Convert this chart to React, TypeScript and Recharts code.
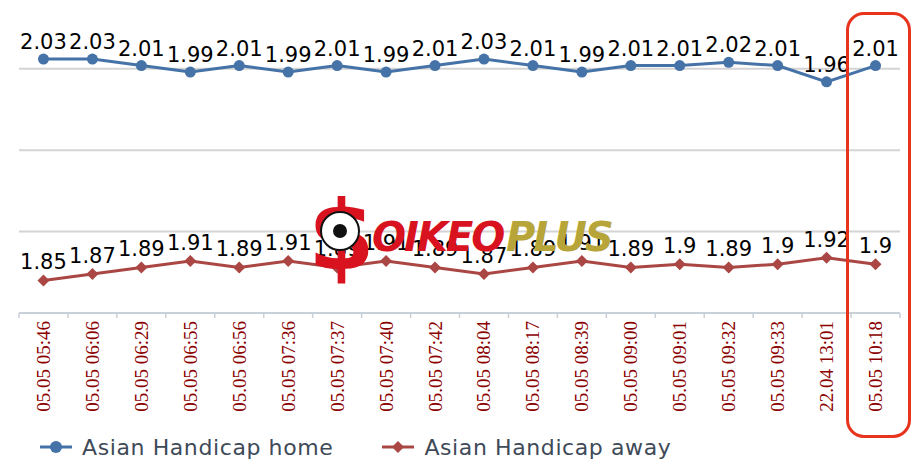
import { LineChart, Line, XAxis, YAxis, CartesianGrid, Legend, LabelList } from "recharts";

const TIMES = [
  "05.05 05:46", "05.05 06:06", "05.05 06:29", "05.05 06:55", "05.05 06:56", "05.05 07:36",
  "05.05 07:37", "05.05 07:40", "05.05 07:42", "05.05 08:04", "05.05 08:17", "05.05 08:39",
  "05.05 09:00", "05.05 09:01", "05.05 09:32", "05.05 09:33", "22.04 13:01", "05.05 10:18",
];
const HOME = [2.03, 2.03, 2.01, 1.99, 2.01, 1.99, 2.01, 1.99, 2.01, 2.03, 2.01, 1.99, 2.01, 2.01, 2.02, 2.01, 1.96, 2.01];
const AWAY = [1.85, 1.87, 1.89, 1.91, 1.89, 1.91, 1.89, 1.91, 1.89, 1.87, 1.89, 1.91, 1.89, 1.9, 1.89, 1.9, 1.92, 1.9];
const HOME_TICKS = [1.25, 1.5, 1.75, 2.0];
const HOME_DOMAIN = [1.25, 2.15];
const AWAY_DOMAIN = [1.75, 2.65];

const W = 918;
const H = 476;
const M = { top: 20, right: 18, bottom: 0, left: 19 };
const HALF_BAND = (W - M.left - M.right) / TIMES.length / 2;

const BLUE = "#4572A7";
const RED = "#AA4643";
const SERIF = "'Liberation Serif', 'Times New Roman', serif";
const SANS = "'DejaVu Sans', sans-serif";

const data = TIMES.map((t, i) => ({ t, home: HOME[i], away: AWAY[i] }));

// grid lines sit on the home axis ticks
function gridRows({ yAxis, offset }: any) {
  if (yAxis && typeof yAxis.scale === "function") return HOME_TICKS.map((v) => yAxis.scale(v));
  const [lo, hi] = HOME_DOMAIN;
  return HOME_TICKS.map((v) => offset.top + (1 - (v - lo) / (hi - lo)) * offset.height);
}

function TimeTick(props: any) {
  const { x, y, payload, index } = props;
  const last = index === TIMES.length - 1;
  return (
    <g>
      <line x1={x - HALF_BAND} x2={x - HALF_BAND} y1={y - 8} y2={y - 3} stroke="#c8d0d8" strokeWidth={1.5} />
      {last && <line x1={x + HALF_BAND} x2={x + HALF_BAND} y1={y - 8} y2={y - 3} stroke="#c8d0d8" strokeWidth={1.5} />}
      <text
        x={x}
        y={y}
        dy={6.5}
        transform={`rotate(-90, ${x}, ${y})`}
        textAnchor="end"
        fill="#8B0000"
        fontSize={19}
        style={{ fontFamily: SERIF }}
      >
        {payload.value}
      </text>
    </g>
  );
}

function Diamond(props: any) {
  const { cx, cy } = props;
  if (cx == null || cy == null) return null;
  const r = 6;
  return <path d={`M${cx},${cy - r}L${cx + r},${cy}L${cx},${cy + r}L${cx - r},${cy}Z`} fill={RED} />;
}

function LegendBox() {
  const item = (label: string, color: string, diamond: boolean, gap: number) => (
    <div style={{ display: "flex", alignItems: "center", marginRight: gap }}>
      <svg width={34} height={14} style={{ marginRight: 9 }}>
        <line x1={1} x2={33} y1={7} y2={7} stroke={color} strokeWidth={3} />
        {diamond ? <path d="M17,1L23,7L17,13L11,7Z" fill={color} /> : <circle cx={17} cy={7} r={6} fill={color} />}
      </svg>
      <span>{label}</span>
    </div>
  );
  return (
    <div
      style={{
        display: "flex",
        alignItems: "center",
        height: 50,
        paddingLeft: 39,
        paddingBottom: 8,
        boxSizing: "border-box",
        fontFamily: SANS,
        fontSize: 22,
        letterSpacing: 0.6,
        color: "#3e4a58",
      }}
    >
      {item("Asian Handicap home", BLUE, false, 48)}
      {item("Asian Handicap away", RED, true, 0)}
    </div>
  );
}

export default function App() {
  return (
    <div style={{ position: "absolute", left: 0, top: 0, width: W, height: H, background: "#fff" }}>
      <LineChart width={W} height={H} data={data} margin={M}>
        <CartesianGrid
          yAxisId="home"
          vertical={false}
          stroke="#d4d4d4"
          strokeWidth={2}
          horizontalCoordinatesGenerator={gridRows}
        />
        <XAxis
          dataKey="t"
          height={113}
          interval={0}
          padding={{ left: HALF_BAND, right: HALF_BAND }}
          tick={<TimeTick />}
          tickLine={false}
          axisLine={{ stroke: "#c8d0d8", strokeWidth: 2 }}
        />
        <YAxis yAxisId="home" domain={HOME_DOMAIN} ticks={HOME_TICKS} width={0} tick={false} axisLine={false} tickLine={false} />
        <YAxis yAxisId="away" orientation="right" domain={AWAY_DOMAIN} width={0} tick={false} axisLine={false} tickLine={false} />
        <Legend verticalAlign="bottom" wrapperStyle={{ left: 0, width: W }} content={<LegendBox />} />
        <Line
          yAxisId="home"
          dataKey="home"
          name="Asian Handicap home"
          stroke={BLUE}
          strokeWidth={3}
          dot={{ r: 5.5, fill: BLUE, stroke: "none" }}
          activeDot={false}
          isAnimationActive={false}
        >
          <LabelList dataKey="home" position="top" offset={10} fill="#000" fontSize={21} fontFamily={SANS} />
        </Line>
        <Line
          yAxisId="away"
          dataKey="away"
          name="Asian Handicap away"
          stroke={RED}
          strokeWidth={3}
          dot={<Diamond />}
          activeDot={false}
          isAnimationActive={false}
        >
          <LabelList dataKey="away" position="top" offset={11} fill="#000" fontSize={21} fontFamily={SANS} />
        </Line>
      </LineChart>

      <svg width={320} height={100} style={{ position: "absolute", left: 300, top: 185, pointerEvents: "none" }}>
        <text x={8} y={84} fontSize={96} fontWeight="bold" fill="#d9121f" fontFamily={SANS}>$</text>
        <circle cx={40} cy={46} r={19} fill="#fff" stroke="#111" strokeWidth={2} />
        <circle cx={40} cy={46} r={7} fill="#111" />
        <text x={72} y={66} fontSize={40} fontWeight="bold" fontStyle="italic" fill="#d9121f" fontFamily={SANS} letterSpacing={-2}>OIKEO</text>
        <text x={206} y={66} fontSize={40} fontWeight="bold" fontStyle="italic" fill="#b8a53a" fontFamily={SANS} letterSpacing={-2}>PLUS</text>
      </svg>

      <div
        style={{
          position: "absolute",
          left: 846,
          top: 12,
          width: 65,
          height: 426,
          border: "3px solid #e8341c",
          borderRadius: 18,
          boxSizing: "border-box",
          pointerEvents: "none",
        }}
      />
    </div>
  );
}
